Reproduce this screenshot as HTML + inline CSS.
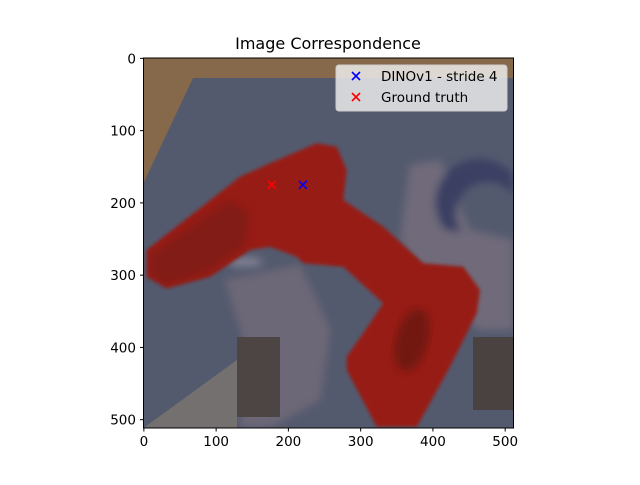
<!DOCTYPE html>
<html><head><meta charset="utf-8"><style>
body{margin:0;background:#fff;font-family:"Liberation Sans","DejaVu Sans",sans-serif}
svg text{font-family:"DejaVu Sans","Liberation Sans",sans-serif}
</style></head><body>
<svg id="chart" width="640" height="480" viewBox="0 0 640 480">
<defs><clipPath id="ax"><rect x="143.5" y="58" width="370" height="370"/></clipPath>
<filter id="bl"><feGaussianBlur stdDeviation="1.5"/></filter>
<filter id="bl2"><feGaussianBlur stdDeviation="4"/></filter></defs>
<rect width="640" height="480" fill="#fff"/>
<text x="328" y="49" font-size="16" text-anchor="middle">Image Correspondence</text>
<g clip-path="url(#ax)">
<rect x="143.5" y="58" width="370" height="370" fill="#86694a"/>
<polygon points="193,78 513.5,78 513.5,428 143.5,428 143.5,183" fill="#545a6e"/>
<g filter="url(#bl2)">
<polygon points="410,165 440,160 470,230 513,240 513,330 480,330 440,300 400,240" fill="#6f6a7a"/>
<polygon points="225,280 300,265 330,330 320,400 270,427 240,427 250,360" fill="#6d6877"/>
<path d="M445,230 A40,40 0 0 1 513,175 L513,195 A25,25 0 0 0 462,232 Z" fill="#3a4064"/>
<ellipse cx="245" cy="262" rx="18" ry="5" fill="#7f8092"/>
</g>
<polygon points="143.5,428 237,360 237,428" fill="#757070"/>
<rect x="237" y="337" width="43" height="80" fill="#4d4444"/>
<rect x="473" y="337" width="41" height="73" fill="#4a4141"/>
<polygon filter="url(#bl)" points="146.7,250 240,176.7 270,163.3 316.7,143.3 336.7,146.7 346.7,170 343.3,200 383.3,226.7 423.3,263.3 463.3,266.7 480,290 476.7,313.3 450,366.7 416.7,426.7 376.7,426.7 346.7,370 346.7,356.7 370,323.3 383.3,303.3 343.3,266.7 303.3,263.3 296.7,256.7 270,246.7 250,250 210,276.7 166.7,288.3 146.7,276.7" fill="#971c14"/>
<polygon filter="url(#bl2)" points="150,255 230,200 250,215 245,245 210,270 166,285 150,275" fill="#6e1a12" opacity="0.5"/>
<ellipse filter="url(#bl2)" cx="412" cy="340" rx="16" ry="32" transform="rotate(15 412 340)" fill="#5a1610" opacity="0.6"/>
</g>
<rect x="143.5" y="58" width="370" height="370" fill="none" stroke="#000" stroke-width="1"/>
<g id="markers"></g>
<g id="xticks"></g>
<g id="yticks"></g>
<g>
<rect x="336" y="65" width="171" height="46" rx="3" fill="#f4f4f4" fill-opacity="0.8" stroke="#ccc"/>
<g><path d="M352,72 l8,8 M360,72 l-8,8" stroke="#00f" stroke-width="1.6"/><text x="381" y="81" font-size="13.5">DINOv1 - stride 4</text></g>
<g><path d="M352,93 l8,8 M360,93 l-8,8" stroke="#f00" stroke-width="1.6"/><text x="381" y="102" font-size="13.5">Ground truth</text></g>
</g>
</svg>
<script>
const xTicks=[0,100,200,300,400,500];
const yTicks=[0,100,200,300,400,500];
const seriesNames=['DINOv1 - stride 4','Ground truth'];
const seriesColors=['#0000ff','#ff0000'];
const pointX=[220,177];
const pointY=[175,175];
const X0=143.5,Y0=58,S=370/512;
const sx=v=>X0+(v+0.5)*S, sy=v=>Y0+(v+0.5)*S;
const NS='http://www.w3.org/2000/svg';
function mk(t,a,p){const e=document.createElementNS(NS,t);for(const k in a)e.setAttribute(k,a[k]);p.appendChild(e);return e;}
const xg=document.getElementById('xticks'),yg=document.getElementById('yticks');
xTicks.forEach(v=>{const x=sx(v);
 mk('line',{x1:x,x2:x,y1:428,y2:431.5,stroke:'#000'},xg);
 const t=mk('text',{x:x,y:446,'font-size':'13.5','text-anchor':'middle'},xg);t.textContent=v;
 
 });
yTicks.forEach(v=>{const y=sy(v);
 mk('line',{x1:140,x2:143.5,y1:y,y2:y,stroke:'#000'},yg);
 const t=mk('text',{x:136,y:y+5,'font-size':'13.5','text-anchor':'end'},yg);t.textContent=v;
 
 });
const mg=document.getElementById('markers');
pointX.forEach((v,i)=>{const x=sx(v),y=sy(pointY[i]);
 const p=mk('path',{d:`M${x-4},${y-4}L${x+4},${y+4}M${x+4},${y-4}L${x-4},${y+4}`,stroke:seriesColors[i],'stroke-width':1.6},mg);
 
 });
</script>
</body></html>
